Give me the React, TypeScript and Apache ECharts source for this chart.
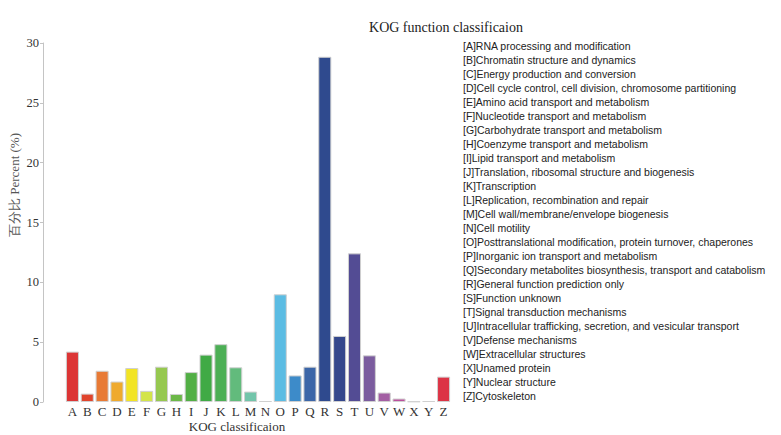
import React, { useEffect, useRef } from "react";
import * as echarts from "echarts";

const categories = ["A","B","C","D","E","F","G","H","I","J","K","L","M","N","O","P","Q","R","S","T","U","V","W","X","Y","Z"];
const values = [4.21,0.7,2.61,1.71,2.84,0.93,2.95,0.67,2.5,3.96,4.83,2.9,0.87,0.08,9.0,2.22,2.95,28.85,5.52,12.42,3.9,0.79,0.29,0.05,0.08,2.12];
const colors = ["#dc3535","#e0442c","#e87a35","#efaa2d","#f2e424","#d3e44a","#96c850","#6cb848","#52af45","#40aa45","#4caf55","#62bb7c","#72c5aa","#1a9c8a","#5bbce3","#3d8bc9","#3c66a8","#2f4a8e","#34478c","#534c94","#7b5c9e","#a35fa3","#bb4f9d","#c8c8c8","#8c2444","#dc3446"];
const descriptions = [
  "RNA processing and modification",
  "Chromatin structure and dynamics",
  "Energy production and conversion",
  "Cell cycle control, cell division, chromosome partitioning",
  "Amino acid transport and metabolism",
  "Nucleotide transport and metabolism",
  "Carbohydrate transport and metabolism",
  "Coenzyme transport and metabolism",
  "Lipid transport and metabolism",
  "Translation, ribosomal structure and biogenesis",
  "Transcription",
  "Replication, recombination and repair",
  "Cell wall/membrane/envelope biogenesis",
  "Cell motility",
  "Posttranslational modification, protein turnover, chaperones",
  "Inorganic ion transport and metabolism",
  "Secondary metabolites biosynthesis, transport and catabolism",
  "General function prediction only",
  "Function unknown",
  "Signal transduction mechanisms",
  "Intracellular trafficking, secretion, and vesicular transport",
  "Defense mechanisms",
  "Extracellular structures",
  "Unamed protein",
  "Nuclear structure",
  "Cytoskeleton",
];
const yTicks = { min: 0, max: 30, interval: 5 };
const titleText = "KOG function classificaion";
const xAxisTitle = "KOG classificaion";
const yAxisTitle = "百分比 Percent (%)";

const SERIF = "Liberation Serif";
const SANS = "Liberation Sans";

export default function App() {
  const ref = useRef<HTMLDivElement>(null);
  useEffect(() => {
    document.body.style.margin = "0";
    if (!ref.current) return;
    const chart = echarts.init(ref.current, null, { renderer: "svg" });
    const legendTexts = categories.map((c, i) => ({
      type: "text",
      left: 463,
      top: 40 + i * 14,
      style: {
        text: `[${c}]${descriptions[i]}`,
        fontFamily: SANS,
        fontSize: 10.5,
        fill: "#222",
      },
    }));
    chart.setOption({
      animation: false,
      backgroundColor: "#fff",
      textStyle: { fontFamily: SERIF, color: "#333" },
      grid: { left: 65, right: 330, top: 43, bottom: 33 },
      xAxis: {
        type: "category",
        data: categories,
        axisLine: { show: false },
        axisTick: { show: false },
        axisLabel: { fontFamily: SERIF, fontSize: 13, color: "#333", margin: 3, interval: 0 },
      },
      yAxis: {
        type: "value",
        min: yTicks.min,
        max: yTicks.max,
        interval: yTicks.interval,
        offset: 22,
        axisLine: { show: true, lineStyle: { color: "#c4c4c4", width: 1 } },
        axisTick: { show: true, length: 3, lineStyle: { color: "#c4c4c4" } },
        axisLabel: {
          margin: 4,
          formatter: "{n|{value}}",
          rich: { n: { fontFamily: SERIF, fontSize: 12.5, color: "#333" } },
        },
        splitLine: { show: false },
      },
      series: [
        {
          type: "bar",
          data: values.map((v, i) => ({ value: v, itemStyle: { color: colors[i] } })),
          barCategoryGap: "12%",
          itemStyle: { borderColor: "#d0d0d0", borderWidth: 1 },
        },
      ],
      graphic: [
        {
          type: "text",
          x: 446,
          y: 27,
          style: { text: titleText, fontFamily: SERIF, fontSize: 14, fill: "#222", align: "center", verticalAlign: "middle" },
        },
        {
          type: "text",
          x: 237,
          y: 426,
          style: { text: xAxisTitle, fontFamily: SERIF, fontSize: 13, fill: "#333", align: "center", verticalAlign: "middle" },
        },
        {
          type: "text",
          x: 14,
          y: 185,
          rotation: Math.PI / 2,
          style: { text: yAxisTitle, fontFamily: SERIF, fontSize: 13, fill: "#555", align: "center", verticalAlign: "middle" },
        },
        ...legendTexts,
      ],
    });
    return () => chart.dispose();
  }, []);
  return <div ref={ref} style={{ width: 781, height: 435 }} />;
}
